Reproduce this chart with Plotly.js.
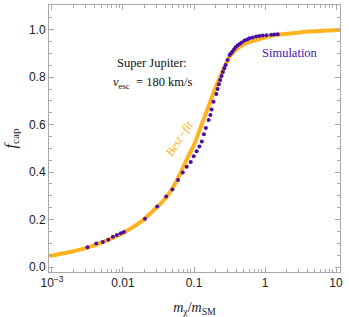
<!DOCTYPE html>
<html>
<head>
<meta charset="utf-8">
<script src="https://cdn.plot.ly/plotly-3.0.1.min.js"></script>
<style>
html,body{margin:0;padding:0;background:#fff;}
#chart{width:349px;height:317px;}
</style>
</head>
<body>
<div id="chart"></div>
<script>
// Best-fit curve (m_chi/m_SM, f_cap)
const fitX = [0.000912, 0.00178, 0.00316, 0.00562, 0.01, 0.0178, 0.0251, 0.0316, 0.0398, 0.0501, 0.0631, 0.0794, 0.1, 0.120, 0.141, 0.166, 0.195, 0.229, 0.269, 0.316, 0.394, 0.543, 0.834, 1.36, 2.45, 3.98, 11.5];
const fitY = [0.046, 0.063, 0.082, 0.109, 0.143, 0.190, 0.230, 0.258, 0.290, 0.333, 0.390, 0.455, 0.515, 0.577, 0.633, 0.689, 0.746, 0.795, 0.844, 0.886, 0.917, 0.943, 0.960, 0.977, 0.985, 0.992, 0.999];

// Simulation points
const simX = [0.00316, 0.0042, 0.0052, 0.0062, 0.0072, 0.0082, 0.0093, 0.0103, 0.0204, 0.0303, 0.0405, 0.0497, 0.0597, 0.0695, 0.079, 0.090, 0.099, 0.109, 0.119, 0.129, 0.138, 0.147, 0.161, 0.170, 0.177, 0.188, 0.206, 0.215, 0.224, 0.234, 0.245, 0.255, 0.267, 0.279, 0.297, 0.317, 0.33, 0.346, 0.365, 0.385, 0.41, 0.438, 0.47, 0.514, 0.56, 0.604, 0.67, 0.75, 0.83, 0.929, 1.05, 1.22, 1.35, 1.51];
const simY = [0.083, 0.099, 0.105, 0.115, 0.128, 0.135, 0.142, 0.148, 0.203, 0.255, 0.297, 0.327, 0.367, 0.398, 0.422, 0.442, 0.467, 0.488, 0.508, 0.529, 0.559, 0.586, 0.619, 0.641, 0.664, 0.696, 0.729, 0.750, 0.770, 0.788, 0.805, 0.822, 0.837, 0.851, 0.872, 0.893, 0.900, 0.907, 0.916, 0.926, 0.933, 0.940, 0.946, 0.954, 0.959, 0.964, 0.967, 0.971, 0.973, 0.976, 0.977, 0.979, 0.980, 0.981];

// Tick labels
const xTickVals = [0.001, 0.01, 0.1, 1, 10];
const xTickText = ['10<sup>−3</sup>', '0.01', '0.1', '1', '10'];

const orange = '#FFB31F';
const purple = '#4A0FA8';
const frame = '#A8A8A8';

const xMinor = [];
[0.001, 0.01, 0.1, 1].forEach(d => { for (let k = 2; k <= 9; k++) xMinor.push(d * k); });

const traces = [
  {x: fitX, y: fitY, type: 'scatter', mode: 'lines', line: {color: orange, width: 4, shape: 'spline', smoothing: 0.8}, hoverinfo: 'skip'},
  {x: simX, y: simY, type: 'scatter', mode: 'markers', marker: {color: purple, size: 4}, hoverinfo: 'skip'}
];

const tickFont = {family: 'Liberation Sans, Arial, sans-serif', size: 12, color: '#222'};
const serif = 'Liberation Serif, Times New Roman, serif';

const layout = {
  width: 349, height: 317,
  margin: {l: 49, r: 9, t: 5, b: 45},
  paper_bgcolor: '#fff', plot_bgcolor: '#fff',
  showlegend: false,
  xaxis: {
    type: 'log', range: [-3.042, 1.056],
    tickvals: xTickVals, ticktext: xTickText,
    ticks: 'inside', ticklen: 5, tickcolor: frame, tickwidth: 1,
    minor: {tickvals: xMinor, ticks: 'inside', ticklen: 3, tickcolor: frame, showgrid: false},
    showline: true, linecolor: frame, linewidth: 1, mirror: 'allticks',
    showgrid: false, zeroline: false,
    tickfont: tickFont,
    title: {text: '<i>m</i><sub>χ</sub>/<i>m</i><sub>SM</sub>', font: {family: serif, size: 14, color: '#222'}, standoff: 13}
  },
  yaxis: {
    range: [-0.021, 1.104],
    tickvals: [0, 0.2, 0.4, 0.6, 0.8, 1.0],
    ticktext: ['0.0', '0.2', '0.4', '0.6', '0.8', '1.0'],
    ticks: 'inside', ticklen: 5, tickcolor: frame, tickwidth: 1,
    minor: {dtick: 0.05, ticks: 'inside', ticklen: 3, tickcolor: frame, showgrid: false},
    showline: true, linecolor: frame, linewidth: 1, mirror: 'allticks',
    showgrid: false, zeroline: false,
    tickfont: tickFont,
    title: {text: '<i>f</i><sub>cap</sub>', font: {family: serif, size: 16, color: '#222'}, standoff: 8}
  },
  annotations: [
    {xref: 'paper', yref: 'paper', x: 0.354, y: 0.7825, text: 'Super Jupiter:', showarrow: false,
     font: {family: serif, size: 12.5, color: '#111'}, xanchor: 'center', yanchor: 'middle'},
    {xref: 'paper', yref: 'paper', x: 0.357, y: 0.7075, text: '<i>v</i><sub>esc</sub>  = 180 km/s', showarrow: false,
     font: {family: serif, size: 12.5, color: '#111'}, xanchor: 'center', yanchor: 'middle'},
    {xref: 'paper', yref: 'paper', x: 0.828, y: 0.821, text: 'Simulation', showarrow: false,
     font: {family: serif, size: 12.5, color: purple}, xanchor: 'center', yanchor: 'middle'},
    {xref: 'paper', yref: 'paper', x: 0.447, y: 0.4975, text: '<i>Best−fit</i>', showarrow: false, textangle: -57,
     font: {family: serif, size: 12, color: orange}, xanchor: 'center', yanchor: 'middle'}
  ]
};

Plotly.newPlot('chart', traces, layout, {displayModeBar: false, staticPlot: true});
</script>
</body>
</html>
